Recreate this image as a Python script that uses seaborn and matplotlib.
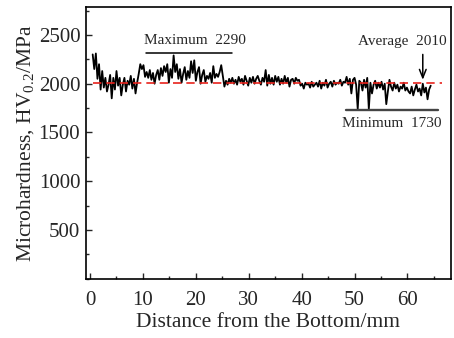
import matplotlib
matplotlib.use('Agg')
import matplotlib.pyplot as plt
from matplotlib.ticker import MultipleLocator
import numpy as np
import pandas as pd
import seaborn as sns

# microhardness readings along the build height, every 0.3 mm from 0.5 mm
start_mm = 0.5
step_mm = 0.3
hardness = [
    2300, 2150, 2310, 2050, 2200, 1940, 2130, 1960, 2060, 1920,
    1990, 2090, 1850, 2060, 1940, 2130, 1980, 2060, 1880, 1990,
    2060, 1920, 2030, 1990, 2080, 1950, 2050, 1900, 2010, 2100,
    2200, 2150, 2190, 2070, 2120, 2060, 2140, 2040, 2110, 2000,
    2090, 2140, 2040, 2160, 2080, 2180, 2120, 2200, 2010, 2150,
    2060, 2290, 2120, 2200, 2050, 2150, 2010, 2100, 2170, 2040,
    2130, 2060, 2230, 2110, 2240, 2030, 2120, 2170, 2000, 2090,
    2140, 2020, 2080, 2050, 2110, 2010, 2180, 2060, 2100, 2070,
    2120, 2190, 2080, 1970, 2030, 1990, 2050, 2010, 2060, 2000,
    2040, 1990, 2070, 2020, 2050, 1990, 2080, 2030, 1980, 2060,
    2010, 2070, 2000, 2050, 2080, 2030, 1990, 2060, 2020, 2140,
    1980, 2090, 2000, 2060, 1990, 2080, 2020, 2070, 1990, 2050,
    2000, 2080, 2010, 2060, 1970, 2040, 2050, 2000, 2060, 2030,
    2040, 1980, 2000, 1950, 2010, 1990, 2000, 1960, 2020, 1970,
    1990, 2010, 1970, 2030, 1950, 2010, 1980, 2040, 1960, 2000,
    2020, 1970, 2030, 1990, 2010, 2000, 2040, 1980, 2020, 2010,
    2070, 1990, 2050, 1900, 2040, 2060, 1990, 1740, 2030, 2010,
    1930, 2040, 1960, 2060, 1740, 2010, 1900, 1990, 2030, 1950,
    2010, 1960, 2020, 1940, 2000, 1790, 1920, 2040, 1970, 1930,
    2010, 1950, 1990, 1920, 1970, 1950, 2010, 1930, 1960, 1920,
    1900, 1970, 1880, 1940, 1990, 1920, 1950, 1880, 2000, 1910,
    1960, 1840, 1940, 1980,
]
distance = start_mm + step_mm * np.arange(len(hardness))

average = 2010
max_value = 2290
min_value = 1730

sns.set_theme(style='ticks')
plt.rcParams['font.family'] = ['Liberation Serif', 'DejaVu Serif']
plt.rcParams['mathtext.fontset'] = 'custom'
plt.rcParams['mathtext.rm'] = 'Liberation Serif'

fig = plt.figure(figsize=(4.54, 3.38), dpi=100)
ax = fig.add_axes([0.189, 0.175, 0.804, 0.804])

df = pd.DataFrame({'distance': distance, 'hardness': hardness})
sns.lineplot(data=df, x='distance', y='hardness', ax=ax, color='black', linewidth=1.3)

# average line
ax.plot([0.5, 66.5], [average, average], color='#e8231c', linestyle=(0, (5, 3)), linewidth=1.2)
ax.annotate('', xy=(62.9, 2040), xytext=(62.9, 2300),
            arrowprops=dict(arrowstyle='->,head_length=0.5,head_width=0.2',
                            color='black', lw=1.1, shrinkA=0, shrinkB=0))
ax.text(59.0, 2430, f'Average  {average}', fontsize=11, ha='center', va='center')

# maximum bar
ax.plot([10.5, 26.8], [2310, 2310], color='black', linewidth=1.1)
ax.text(19.8, 2440, f'Maximum  {max_value}', fontsize=11, ha='center', va='center')

# minimum bar
ax.plot([48.4, 65.7], [min_value, min_value], color='#444444', linewidth=1.7)
ax.text(57.0, 1590, f'Minimum  {min_value}', fontsize=11, ha='center', va='center')

ax.set_xlim(-0.8, 68.2)
ax.set_ylim(0, 2785)
ax.xaxis.set_major_locator(MultipleLocator(10))
ax.xaxis.set_minor_locator(MultipleLocator(5))
ax.set_yticks([500, 1000, 1500, 2000, 2500])
ax.yaxis.set_minor_locator(MultipleLocator(250))
ax.tick_params(which='both', direction='in', top=False, right=False,
               labelsize=15, width=1.0)
ax.tick_params(which='major', length=4)
ax.tick_params(which='minor', length=2)
ax.tick_params(axis='x', which='major', pad=9)
ax.tick_params(axis='y', which='major', pad=4)
for s in ax.spines.values():
    s.set_linewidth(1.2)
    s.set_color('black')

ax.set_xlabel('Distance from the Bottom/mm', fontsize=15.5, labelpad=2)
ax.set_ylabel(r'Microhardness, HV$_{\mathrm{0.2}}$/MPa', fontsize=15.5, labelpad=1)

fig.savefig('out.png', dpi=100)
